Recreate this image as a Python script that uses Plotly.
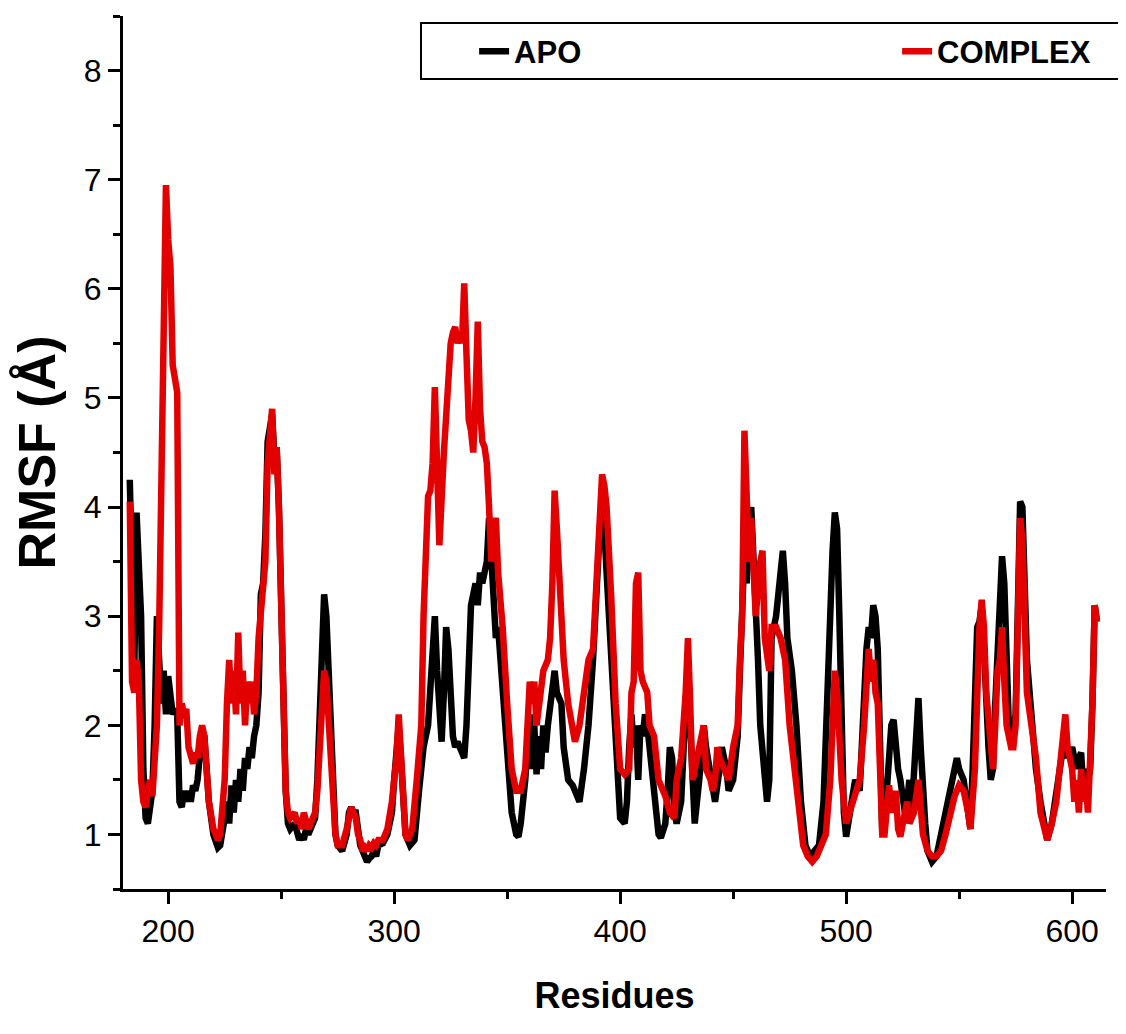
import plotly.graph_objects as go

# ---------------- data ----------------
apo_residues = [
    183, 184, 185, 186, 187, 188, 189, 190, 191, 192,
    193, 194, 195, 196, 197, 198, 199, 200, 201, 202,
    203, 204, 205, 206, 207, 208, 209, 210, 211, 212,
    213, 214, 215, 216, 217, 218, 220, 222, 223, 224,
    225, 226, 227, 228, 229, 230, 231, 232, 233, 234,
    235, 236, 237, 238, 239, 240, 241, 242, 243, 244,
    245, 246, 247, 248, 249, 250, 251, 252, 253, 254,
    256, 257, 258, 259, 260, 261, 262, 264, 265, 266,
    267, 268, 269, 270, 271, 272, 273, 274, 275, 277,
    279, 280, 281, 282, 283, 284, 285, 286, 287, 288,
    289, 290, 291, 292, 293, 295, 297, 299, 300, 302,
    303, 305, 307, 309, 311, 313, 315, 316, 317, 318,
    319, 320, 321, 322, 323, 324, 325, 326, 327, 328,
    330, 331, 332, 333, 334, 335, 336, 337, 338, 339,
    340, 341, 342, 343, 344, 345, 346, 347, 348, 350,
    352, 354, 355, 356, 358, 360, 361, 362, 363, 364,
    365, 366, 367, 368, 370, 371, 372, 374, 375, 377,
    379, 381, 382, 384, 386, 388, 390, 391, 392, 393,
    394, 396, 398, 399, 400, 402, 403, 404, 405, 406,
    407, 408, 409, 410, 411, 412, 413, 415, 417, 418,
    420, 421, 422, 423, 424, 425, 427, 429, 430, 431,
    432, 433, 435, 437, 438, 440, 442, 444, 445, 447,
    448, 450, 452, 453, 454, 455, 456, 457, 458, 459,
    460, 461, 462, 463, 464, 465, 466, 467, 468, 469,
    470, 471, 472, 473, 474, 476, 478, 480, 482, 484,
    486, 488, 490, 492, 493, 494, 495, 496, 497, 498,
    499, 500, 501, 503, 504, 506, 507, 508, 509, 510,
    511, 512, 513, 514, 515, 516, 518, 519, 520, 521,
    522, 523, 524, 526, 527, 528, 529, 530, 531, 532,
    533, 534, 535, 536, 538, 540, 542, 544, 546, 548,
    549, 550, 552, 554, 555, 556, 557, 558, 559, 560,
    561, 562, 563, 564, 565, 566, 567, 568, 569, 570,
    571, 572, 573, 574, 575, 576, 577, 578, 579, 580,
    582, 584, 586, 588, 589, 591, 593, 594, 596, 597,
    598, 600, 601, 602, 603, 604, 605, 606, 607, 608,
    609, 610, 611,
]
apo_rmsf = [
    4.25, 3.5, 2.5, 3.95, 3.5, 3.0, 1.6, 1.15, 1.1, 1.3,
    1.4, 2.0, 3.0, 2.6, 2.2, 2.5, 2.1, 2.45, 2.2, 2.1,
    2.15, 2.1, 1.3, 1.25, 1.4, 1.3, 1.4, 1.3, 1.45, 1.4,
    1.5, 1.7, 1.95, 1.9, 1.6, 1.3, 1.0, 0.88, 0.9, 1.0,
    1.15, 1.3, 1.1, 1.45, 1.2, 1.5, 1.3, 1.6, 1.4, 1.7,
    1.6, 1.8, 1.7, 1.9, 2.0, 2.3, 3.2, 3.3, 3.75, 4.6,
    4.7, 4.85, 4.45, 4.55, 4.0, 3.0, 2.0, 1.4, 1.1, 1.05,
    1.1, 1.0, 0.95, 1.0, 0.95, 1.05, 1.0, 1.1, 1.15, 1.5,
    2.0, 2.8, 3.2, 3.0, 2.4, 2.0, 1.5, 1.0, 0.9, 0.85,
    1.0, 1.2, 1.25, 1.2, 1.2, 1.0, 0.9, 0.85, 0.8, 0.75,
    0.78, 0.8, 0.85, 0.8, 0.9, 0.92, 1.0, 1.2, 1.5, 2.0,
    1.7, 1.0, 0.9, 0.95, 1.4, 1.8, 2.0, 2.4, 2.8, 3.0,
    2.5, 2.0, 1.85, 2.3, 2.9, 2.7, 2.3, 1.9, 1.8, 1.85,
    1.75, 1.7, 2.0, 2.7, 3.1, 3.2, 3.3, 3.1, 3.4, 3.3,
    3.4, 3.5, 3.9, 3.5, 3.0, 2.8, 2.9, 2.6, 2.3, 1.6,
    1.2, 1.0, 0.98, 1.1, 1.5, 2.1, 1.6, 2.0, 1.55, 1.9,
    1.6, 2.0, 1.75, 2.0, 2.4, 2.5, 2.3, 2.2, 1.8, 1.5,
    1.45, 1.35, 1.3, 1.6, 2.0, 2.6, 3.5, 3.8, 4.0, 3.8,
    3.4, 2.6, 1.8, 1.4, 1.15, 1.1, 1.3, 1.8, 2.1, 1.8,
    2.0, 1.5, 2.0, 1.9, 2.1, 2.0, 1.8, 1.3, 1.0, 0.97,
    1.1, 1.4, 1.8, 1.7, 1.2, 1.1, 1.3, 2.2, 2.6, 2.0,
    1.3, 1.1, 1.5, 2.0, 1.8, 1.5, 1.3, 1.6, 1.8, 1.6,
    1.4, 1.5, 1.9, 2.5, 3.0, 3.6, 3.3, 3.9, 4.0, 3.6,
    3.2, 2.6, 2.0, 1.7, 1.4, 1.3, 1.5, 2.8, 2.9, 3.0,
    3.2, 3.4, 3.6, 3.3, 2.8, 2.5, 2.0, 1.3, 0.9, 0.8,
    0.85, 0.9, 1.3, 2.5, 3.3, 3.6, 3.95, 3.8, 3.0, 2.0,
    1.2, 0.98, 1.1, 1.3, 1.5, 1.4, 1.8, 2.4, 2.7, 2.9,
    2.8, 3.1, 3.0, 2.7, 1.7, 1.0, 1.4, 1.8, 2.0, 2.05,
    1.8, 1.6, 1.5, 1.2, 1.3, 1.5, 1.2, 1.5, 1.9, 2.25,
    1.8, 1.3, 1.1, 0.85, 0.75, 0.8, 1.0, 1.2, 1.4, 1.55,
    1.7, 1.6, 1.5, 1.2, 1.05, 1.6, 2.6, 2.9, 2.95, 3.1,
    2.7, 2.1, 1.8, 1.5, 1.6, 2.2, 2.7, 3.1, 3.55, 3.3,
    2.4, 2.0, 1.9, 1.95, 2.1, 3.0, 4.05, 4.0, 3.0, 2.6,
    2.1, 1.6, 1.3, 1.05, 0.95, 1.1, 1.4, 1.6, 1.8, 1.9,
    1.7, 1.8, 1.7, 1.6, 1.7, 1.75, 1.4, 1.6, 1.5, 1.6,
    2.2, 3.1, 2.95,
]

complex_residues = [
    183, 184, 185, 186, 187, 188, 189, 190, 191, 192,
    193, 194, 195, 196, 197, 198, 199, 200, 201, 202,
    203, 204, 205, 206, 207, 208, 209, 210, 211, 212,
    213, 214, 215, 216, 217, 218, 220, 222, 223, 224,
    225, 226, 227, 228, 229, 230, 231, 232, 233, 234,
    235, 236, 237, 238, 239, 240, 241, 242, 243, 244,
    245, 246, 247, 248, 249, 250, 251, 252, 253, 254,
    256, 257, 258, 259, 260, 261, 262, 264, 265, 266,
    267, 268, 269, 270, 271, 272, 273, 274, 275, 277,
    279, 280, 281, 282, 283, 284, 285, 286, 287, 288,
    289, 290, 291, 292, 293, 295, 297, 299, 300, 301,
    302, 303, 304, 305, 306, 308, 310, 312, 313, 314,
    315, 316, 317, 318, 319, 320, 322, 323, 324, 325,
    326, 327, 328, 329, 330, 331, 332, 333, 334, 335,
    336, 337, 338, 339, 340, 341, 342, 343, 344, 345,
    346, 347, 348, 350, 352, 354, 356, 358, 359, 360,
    361, 362, 363, 365, 366, 368, 369, 370, 371, 372,
    373, 375, 377, 379, 380, 382, 384, 386, 388, 390,
    391, 392, 393, 394, 396, 398, 400, 402, 404, 405,
    406, 407, 408, 409, 410, 412, 413, 415, 417, 419,
    420, 422, 424, 425, 427, 429, 430, 431, 432, 434,
    436, 437, 438, 440, 441, 442, 443, 444, 446, 448,
    450, 452, 453, 454, 455, 456, 457, 458, 459, 460,
    462, 463, 464, 466, 467, 469, 471, 473, 475, 477,
    479, 481, 483, 485, 487, 489, 491, 493, 494, 495,
    496, 497, 498, 500, 502, 504, 506, 508, 509, 510,
    511, 512, 513, 514, 515, 516, 517, 518, 519, 520,
    522, 523, 524, 526, 527, 528, 530, 532, 533, 534,
    536, 538, 540, 542, 544, 546, 548, 550, 552, 554,
    555, 557, 558, 559, 560, 561, 562, 563, 564, 565,
    566, 567, 568, 569, 570, 571, 573, 574, 575, 576,
    577, 578, 579, 580, 582, 584, 586, 588, 589, 591,
    593, 594, 596, 597, 598, 600, 601, 602, 603, 604,
    605, 606, 607, 608, 609, 610, 611,
]
complex_rmsf = [
    4.05, 2.4, 2.3, 2.6, 2.4, 1.5, 1.3, 1.25, 1.4, 1.5,
    1.35, 1.8, 2.0, 2.9, 4.0, 5.3, 6.95, 6.45, 6.2, 5.3,
    5.15, 5.05, 2.0, 2.2, 2.1, 2.15, 1.8, 1.7, 1.65, 1.75,
    1.7, 1.9, 2.0, 1.9, 1.6, 1.3, 1.05, 0.95, 1.0, 1.2,
    1.5, 2.2, 2.6, 2.2, 2.5, 2.1, 2.85, 2.2, 2.5, 2.0,
    2.4, 2.2, 2.4, 2.1, 2.3, 2.8, 3.1, 3.25, 3.5, 4.4,
    4.75, 4.9, 4.3, 4.55, 4.0, 3.0, 2.0, 1.4, 1.2, 1.15,
    1.2, 1.1, 1.15, 1.05, 1.2, 1.1, 1.05, 1.15, 1.2, 1.4,
    1.8, 2.2, 2.5, 2.4, 2.0, 1.8, 1.3, 1.0, 0.9, 0.9,
    1.05, 1.2, 1.25, 1.2, 1.15, 1.0, 0.95, 0.85, 0.88, 0.85,
    0.9, 0.88, 0.92, 0.9, 0.95, 0.95, 1.05, 1.3, 1.5, 1.7,
    2.1, 1.7, 1.2, 1.0, 0.95, 1.05, 1.5, 2.0, 3.0, 3.8,
    4.1, 4.15, 4.4, 5.1, 4.2, 3.65, 4.5, 4.8, 5.3, 5.5,
    5.6, 5.65, 5.5, 5.6, 5.5, 6.05, 5.4, 4.8, 4.7, 4.5,
    5.0, 5.7, 4.9, 4.6, 4.55, 4.4, 4.0, 3.5, 3.8, 3.9,
    3.4, 3.2, 2.9, 2.2, 1.6, 1.4, 1.4, 1.6, 2.0, 2.4,
    2.2, 2.4, 2.0, 2.3, 2.5, 2.6, 2.8, 3.3, 4.15, 3.8,
    3.3, 2.6, 2.2, 1.9, 1.85, 2.0, 2.3, 2.6, 2.7, 3.6,
    4.0, 4.3, 4.2, 4.0, 3.2, 2.2, 1.6, 1.55, 1.6, 2.3,
    2.4, 3.3, 3.4, 2.5, 2.4, 2.3, 2.0, 1.9, 1.5, 1.4,
    1.35, 1.2, 1.15, 1.5, 1.7, 2.3, 2.8, 2.2, 1.5, 1.7,
    1.9, 2.0, 1.6, 1.5, 1.4, 1.5, 1.8, 1.7, 1.6, 1.5,
    1.8, 2.0, 2.6, 3.0, 4.7, 4.2, 3.5, 3.9, 3.5, 3.0,
    3.5, 3.6, 2.8, 2.5, 2.9, 2.9, 2.8, 2.6, 2.0, 1.6,
    1.2, 0.9, 0.8, 0.75, 0.8, 0.9, 1.0, 1.5, 2.0, 2.5,
    2.3, 1.8, 1.5, 1.1, 1.25, 1.4, 1.5, 2.0, 2.3, 2.7,
    2.4, 2.6, 2.3, 2.2, 1.6, 1.0, 1.0, 1.3, 1.45, 1.2,
    1.4, 1.05, 0.98, 1.2, 1.3, 1.1, 1.2, 1.5, 1.2, 1.0,
    0.85, 0.8, 0.8, 0.85, 1.0, 1.2, 1.35, 1.45, 1.4, 1.2,
    1.05, 1.6, 2.5, 2.9, 3.15, 2.9, 2.3, 2.0, 1.7, 1.6,
    2.0, 2.5, 2.6, 2.9, 2.4, 2.0, 1.8, 1.8, 2.0, 2.9,
    3.9, 3.7, 2.8, 2.3, 2.0, 1.7, 1.2, 1.0, 0.95, 1.1,
    1.3, 1.5, 1.9, 2.1, 1.8, 1.6, 1.3, 1.5, 1.2, 1.6,
    1.3, 1.5, 1.2, 1.6, 2.2, 3.1, 2.95,
]

series_names = ["APO", "COMPLEX"]
series_colors = ["#000000", "#e30000"]

x_tick_values = [200, 300, 400, 500, 600]
y_tick_values = [1, 2, 3, 4, 5, 6, 7, 8]

assert len(apo_residues) == len(apo_rmsf)
assert len(complex_residues) == len(complex_rmsf)

# ---------------- figure ----------------
fig = go.Figure()
fig.add_trace(go.Scatter(
    x=apo_residues, y=apo_rmsf, mode="lines", name=series_names[0],
    line=dict(color=series_colors[0], width=6.5),
))
fig.add_trace(go.Scatter(
    x=complex_residues, y=complex_rmsf, mode="lines", name=series_names[1],
    line=dict(color=series_colors[1], width=6.5),
))

tick_font = dict(family="Liberation Sans, Arial, sans-serif", size=32, color="black")
bold_family = "Liberation Sans, Arial, sans-serif"

fig.update_layout(
    width=1126, height=1034,
    paper_bgcolor="white", plot_bgcolor="white",
    margin=dict(l=115, r=28, t=8, b=153, autoexpand=False),
    showlegend=True,
    legend=dict(
        orientation="h", xref="container", yref="container",
        x=0.366, y=0.986, xanchor="left", yanchor="top",
        bordercolor="black", borderwidth=2, bgcolor="white",
        indentation=52,
        entrywidth=326, entrywidthmode="pixels", itemwidth=30,
        font=dict(family=bold_family, size=31, color="black", weight="bold"),
    ),
    xaxis=dict(
        range=[180, 615], tickvals=x_tick_values, tickfont=tick_font,
        showgrid=False, zeroline=False, showline=True, linecolor="black", linewidth=3,
        ticks="outside", ticklen=12, tickwidth=3, tickcolor="black",
        minor=dict(dtick=50, tick0=0, ticks="outside", ticklen=7, tickwidth=3, tickcolor="black"),
        automargin=False,
        title=dict(text="Residues", font=dict(family=bold_family, size=36, color="black", weight="bold"),
                   standoff=35),
    ),
    yaxis=dict(
        range=[0.5, 8.5], tickvals=y_tick_values, tickfont=tick_font,
        showgrid=False, zeroline=False, showline=True, linecolor="black", linewidth=3,
        ticks="outside", ticklen=12, tickwidth=3, tickcolor="black",
        minor=dict(dtick=0.5, tick0=0, ticks="outside", ticklen=7, tickwidth=3, tickcolor="black"),
        automargin=False,
        title=dict(text="RMSF (Å)", font=dict(family=bold_family, size=52, color="black", weight="bold"),
                   standoff=16),
    ),
)

fig.write_html("out.html")
